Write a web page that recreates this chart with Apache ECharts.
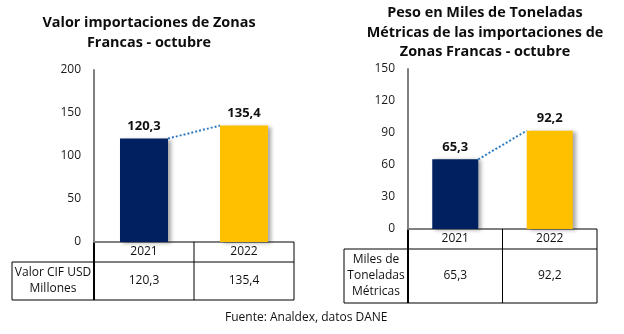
<!DOCTYPE html>
<html>
<head>
<meta charset="utf-8">
<script src="https://cdn.jsdelivr.net/npm/echarts@6/dist/echarts.min.js"></script>
<style>
  html, body { margin: 0; padding: 0; background: #fff; }
  #chart { width: 624px; height: 334px; }
</style>
</head>
<body>
<div id="chart"></div>
<script>
// Data
const years = ['2021', '2022'];
const valorCif = [120.3, 135.4];        // USD millones
const pesoMilesTon = [65.3, 92.2];      // miles de toneladas métricas
const valorTicks = [0, 50, 100, 150, 200];
const pesoTicks = [0, 30, 60, 90, 120, 150];
const valorTitle = 'Valor importaciones de Zonas\nFrancas - octubre';
const pesoTitle = 'Peso en Miles de Toneladas\nMétricas de las importaciones de\nZonas Francas - octubre';
const valorRowLabel = 'Valor CIF USD\nMillones';
const pesoRowLabel = 'Miles de\nToneladas\nMétricas';
const sourceNote = 'Fuente: Analdex, datos DANE';

const FONT = '"Open Sans", "Noto Sans", sans-serif';
const NAVY = '#002060';
const GOLD = '#FFC000';
const DOT = '#2E7BC4';
const fmt = v => v.toFixed(1).replace('.', ',');

// Panel layout (pixels)
const panels = [
  { left: 94, top: 70, width: 200, height: 172, barW: 48, labelLeft: 12, row2H: 38,
    values: valorCif, ticks: valorTicks, title: valorTitle, titleX: 149, titleY: 23,
    rowLabel: valorRowLabel },
  { left: 408, top: 69, width: 189, height: 160, barW: 46, labelLeft: 344, row2H: 54,
    values: pesoMilesTon, ticks: pesoTicks, title: pesoTitle, titleX: 485, titleY: 13,
    rowLabel: pesoRowLabel }
];
const headerH = 20;

const chart = echarts.init(document.getElementById('chart'), null, { renderer: 'canvas' });

const grids = [], xAxes = [], yAxes = [], series = [], graphics = [];

panels.forEach((p, i) => {
  const tmax = p.ticks[p.ticks.length - 1];
  const interval = p.ticks[1] - p.ticks[0];
  grids.push({ left: p.left, top: p.top, width: p.width, height: p.height, containLabel: false });
  xAxes.push({
    type: 'category', gridIndex: i, data: years, boundaryGap: true,
    axisLine: { show: false }, axisTick: { show: false }, axisLabel: { show: false }
  });
  yAxes.push({
    type: 'value', gridIndex: i, min: 0, max: tmax, interval: interval,
    axisLine: { show: true, lineStyle: { color: '#808080', width: 2 } },
    axisTick: { show: false }, splitLine: { show: false },
    axisLabel: { color: '#1a1a1a', fontFamily: FONT, fontSize: 12, margin: 13 }
  });
  series.push({
    type: 'bar', xAxisIndex: i, yAxisIndex: i, barWidth: p.barW,
    data: p.values.map((v, k) => ({
      value: v,
      itemStyle: { color: k === 0 ? NAVY : GOLD }
    })),
    itemStyle: { shadowColor: 'rgba(0,0,0,0.35)', shadowBlur: 4, shadowOffsetX: 3, shadowOffsetY: 1 },
    label: {
      show: true, position: 'top', distance: 6,
      formatter: d => fmt(d.value),
      fontFamily: FONT, fontWeight: 'bold', fontSize: 13, color: '#111'
    },
    z: 3
  });
  // dotted connector from the top-right corner of the first bar to the top-left of the second
  series.push({
    type: 'custom', xAxisIndex: i, yAxisIndex: i, z: 4,
    data: [[0, p.values[0], p.values[1]]],
    renderItem: (params, api) => {
      const a = api.coord([0, api.value(1)]);
      const b = api.coord([1, api.value(2)]);
      return {
        type: 'line',
        shape: { x1: a[0] + p.barW / 2, y1: a[1], x2: b[0] - p.barW / 2, y2: b[1] },
        style: { stroke: DOT, lineWidth: 2, lineDash: [2, 2] }
      };
    }
  });

  // Title (each line centred on titleX, first line's middle at titleY)
  p.title.split('\n').forEach((ln, k) => {
    graphics.push({
      type: 'text', x: p.titleX, y: p.titleY + k * 19.5,
      style: {
        text: ln, textAlign: 'center', textVerticalAlign: 'middle',
        font: 'bold 14.4px ' + FONT, fill: '#0d0d0d'
      }
    });
  });

  // Data table below the plot
  const x0 = p.left, x1 = p.left + p.width, xm = p.left + p.width / 2;
  const y0 = p.top + p.height, y1 = y0 + headerH, y2 = y1 + p.row2H;
  const line = (ax, ay, bx, by, w) => graphics.push({
    type: 'line', shape: { x1: ax, y1: ay, x2: bx, y2: by },
    style: { stroke: '#000', lineWidth: w || 1 }
  });
  line(x0, y0, x1, y0);
  line(p.labelLeft, y1, x1, y1);
  line(p.labelLeft, y2, x1, y2);
  line(p.labelLeft, y1, p.labelLeft, y2);
  line(x0, y0, x0, y2, 2);
  line(xm, y0, xm, y2);
  line(x1, y0, x1, y2);
  const cell = (cx, cy, txt, lh) => graphics.push({
    type: 'text', x: cx, y: cy,
    style: {
      text: txt, textAlign: 'center', textVerticalAlign: 'middle',
      font: '12px ' + FONT, fill: '#111', lineHeight: lh || 16
    }
  });
  years.forEach((yr, k) => {
    const cx = x0 + (p.width / years.length) * (k + 0.5);
    cell(cx, (y0 + y1) / 2, yr);
    cell(cx, (y1 + y2) / 2, fmt(p.values[k]));
  });
  cell((p.labelLeft + x0) / 2, (y1 + y2) / 2, p.rowLabel);
});

graphics.push({
  type: 'text', x: 225, y: 318,
  style: { text: sourceNote, textVerticalAlign: 'middle', font: '12px ' + FONT, fill: '#111' }
});

chart.setOption({
  animation: false,
  grid: grids,
  xAxis: xAxes,
  yAxis: yAxes,
  series: series,
  graphic: graphics
});
</script>
</body>
</html>
